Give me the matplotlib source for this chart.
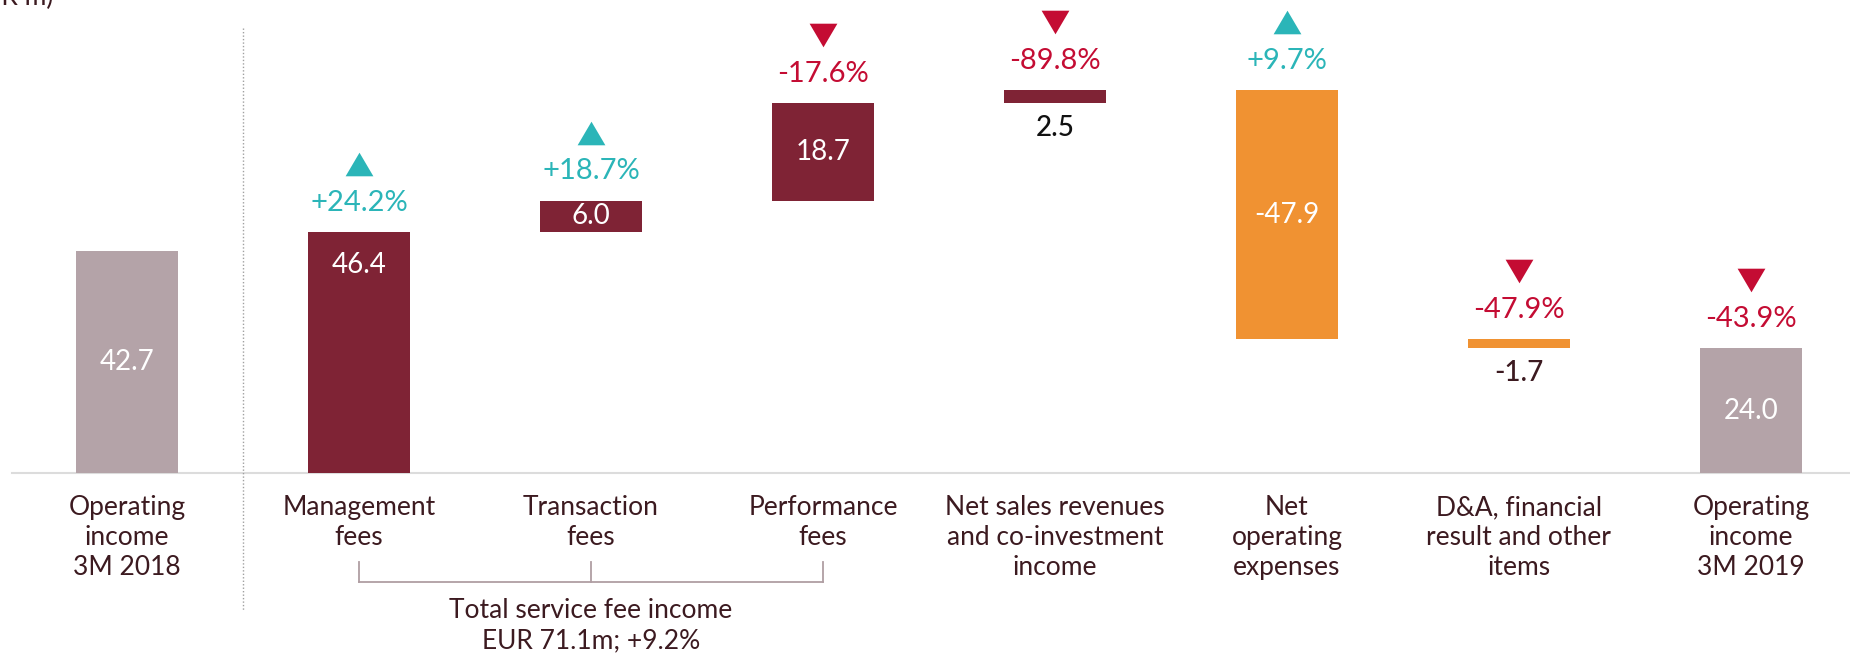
import matplotlib.pyplot as plt
import matplotlib.transforms as mtransforms

# data
categories = ["Operating\nincome\n3M 2018", "Management\nfees", "Transaction\nfees",
              "Performance\nfees", "Net sales revenues\nand co-investment\nincome",
              "Net\noperating\nexpenses", "D&A, financial\nresult and other\nitems",
              "Operating\nincome\n3M 2019"]
values = [42.7, 46.4, 6.0, 18.7, 2.5, -47.9, -1.7, 24.0]
value_labels = ["42.7", "46.4", "6.0", "18.7", "2.5", "-47.9", "-1.7", "24.0"]
changes = [None, "+24.2%", "+18.7%", "-17.6%", "-89.8%", "+9.7%", "-47.9%", "-43.9%"]
directions = [0, 1, 1, -1, -1, 1, -1, -1]
kinds = ["total", "fee", "fee", "fee", "fee", "cost", "cost", "total"]
fee_group = [1, 2, 3]
fee_total_text = "Total service fee income\nEUR 71.1m; +9.2%"

# style
colors = {"total": "#b4a3a8", "fee": "#7f2335", "cost": "#f09232"}
teal = "#2bb5b8"
red = "#c40c33"
dark = "#3c1a20"
label_pos = ["mid", "top", "mid", "mid", "below", "mid", "below", "mid"]

plt.rcParams['font.family'] = ['Lato', 'DejaVu Sans']

fig = plt.figure(figsize=(18.5, 6.55), dpi=100)
ax = fig.add_axes([0, 0, 1, 1])
ax.axis('off')
ax.set_xlim(-0.547, 7.427)
ax.set_ylim(-35.0, 90.96)

# waterfall bottoms (management fees restart from zero like the source)
bottoms = []
running = 0
for i, v in enumerate(values):
    if kinds[i] == "total" or i == 1:
        bottoms.append(0)
        running = v
    else:
        bottoms.append(running if v >= 0 else running + v)
        running += v

x = list(range(len(values)))
heights = [abs(v) for v in values]
ax.bar(x, heights, bottom=bottoms, width=0.44,
       color=[colors[k] for k in kinds], zorder=2)

# baseline
ax.plot([-0.496, 7.43], [0, 0], color="#dcdcdc", lw=1.5, zorder=1)

up_tri = [(-1, -0.85), (1, -0.85), (0, 0.85), (-1, -0.85)]
down_tri = [(-1, 0.85), (1, 0.85), (0, -0.85), (-1, 0.85)]
marker_shift = ax.transData + mtransforms.ScaledTranslation(0, 0.68, fig.dpi_scale_trans)

for i in x:
    top = bottoms[i] + heights[i]
    bot = bottoms[i]
    # value label
    if label_pos[i] == "mid":
        ax.text(i, bot + heights[i] / 2, value_labels[i], ha='center', va='center',
                color='white', fontsize=20, zorder=3)
    elif label_pos[i] == "top":
        ax.annotate(value_labels[i], (i, top), xytext=(0, -24), textcoords='offset points',
                    ha='center', va='center', color='white', fontsize=20, zorder=3)
    else:
        c = "#111111" if values[i] > 0 else dark
        ax.annotate(value_labels[i], (i, bot), xytext=(0, -18), textcoords='offset points',
                    ha='center', va='center', color=c, fontsize=20, fontweight='medium')
    # change marker + text
    if changes[i]:
        col = teal if directions[i] > 0 else red
        ax.annotate(changes[i], (i, top), xytext=(0, 21), textcoords='offset points',
                    ha='center', va='center', color=col, fontsize=21)
        ax.plot(i, top, linestyle='none',
                marker=up_tri if directions[i] > 0 else down_tri,
                markersize=20, color=col, markeredgewidth=0,
                transform=marker_shift)
    # category label
    ax.text(i, -4.2, categories[i], ha='center', va='top', color=dark,
            fontsize=19, linespacing=1.25)

# dotted separator
ax.plot([0.5, 0.5], [85.6, -26.3], linestyle=(0, (1, 1.5)), color="#a0a0a0", lw=1)

# bracket for fee group
by, bt = -21.0, -17.1
ax.plot([fee_group[0], fee_group[-1]], [by, by], color="#b09ea3", lw=1.3)
for g in fee_group:
    ax.plot([g, g], [by, bt], color="#b09ea3", lw=1.3)
ax.text(fee_group[1], -29.4, fee_total_text, ha='center', va='center', color=dark,
        fontsize=19, linespacing=1.25)

# unit label, cut off at the top edge as in the source
fig.text(53 / 1850, 1 - 5 / 655, "(EUR m)", ha='right', va='baseline', color=dark, fontsize=19)

fig.savefig("out.png", dpi=100)
